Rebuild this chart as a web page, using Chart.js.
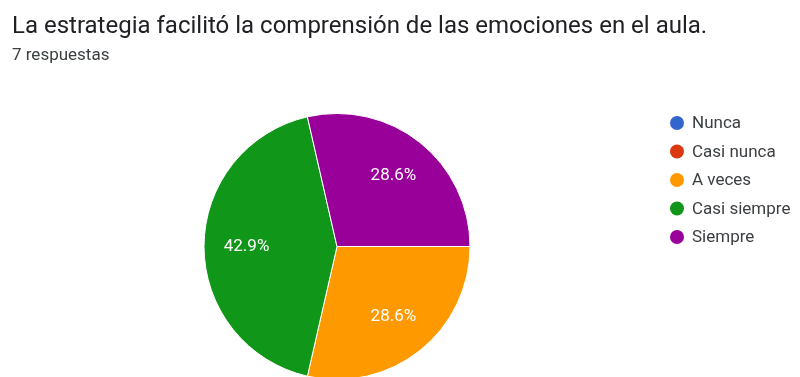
<!DOCTYPE html>
<html lang="es">
<head>
    <meta charset="UTF-8">
    <title>La estrategia facilitó la comprensión de las emociones en el aula.</title>
    <script src="https://cdn.jsdelivr.net/npm/chart.js"></script>
    <style>
        html, body { margin: 0; padding: 0; background: #fff; overflow: hidden; }
        #wrap { position: relative; width: 800px; height: 384px; }
    </style>
</head>
<body>
    <div id="wrap">
        <canvas id="pieChart" role="img" aria-label="La estrategia facilitó la comprensión de las emociones en el aula."></canvas>
    </div>

    <script>
        // Data
        const chartTitle = 'La estrategia facilitó la comprensión de las emociones en el aula.';
        const chartSubtitle = '7 respuestas';
        const categories = ['Nunca', 'Casi nunca', 'A veces', 'Casi siempre', 'Siempre'];
        const responses = [0, 0, 2, 3, 2];
        const sliceColors = ['#3366cc', '#dc3912', '#ff9900', '#109618', '#990099'];

        const FONT = 'Roboto, "Noto Sans", Arial, sans-serif';

        // Title, subtitle and legend drawn on the canvas
        const headerAndLegend = {
            id: 'headerAndLegend',
            afterDraw(chart) {
                const ctx = chart.ctx;
                ctx.save();
                ctx.textAlign = 'left';
                ctx.textBaseline = 'alphabetic';

                ctx.fillStyle = '#202124';
                ctx.font = '400 24px ' + FONT;
                ctx.fillText(chartTitle, 12, 33);

                ctx.fillStyle = '#3c4043';
                ctx.font = '400 17px ' + FONT;
                ctx.fillText(chartSubtitle, 12, 60);

                // legend
                ctx.font = '400 17px ' + FONT;
                ctx.textBaseline = 'middle';
                chart.data.labels.forEach((label, i) => {
                    const y = 123 + i * 28.5;
                    ctx.beginPath();
                    ctx.arc(677, y, 7, 0, Math.PI * 2);
                    ctx.fillStyle = chart.data.datasets[0].backgroundColor[i];
                    ctx.fill();
                    ctx.fillStyle = '#3c4043';
                    ctx.fillText(label, 692, y + 1);
                });
                ctx.restore();
            }
        };

        // Percent labels inside the slices
        const sliceLabels = {
            id: 'sliceLabels',
            afterDatasetsDraw(chart) {
                const ctx = chart.ctx;
                const meta = chart.getDatasetMeta(0);
                const data = chart.data.datasets[0].data;
                const total = data.reduce((a, b) => a + b, 0);
                ctx.save();
                ctx.fillStyle = '#ffffff';
                ctx.font = '400 17px ' + FONT;
                ctx.textAlign = 'center';
                ctx.textBaseline = 'middle';
                meta.data.forEach((arc, i) => {
                    if (!data[i]) return;
                    const p = arc.getProps(['x', 'y', 'startAngle', 'endAngle', 'outerRadius'], true);
                    const mid = (p.startAngle + p.endAngle) / 2;
                    const r = p.outerRadius * 0.68;
                    const pct = (data[i] / total * 100).toFixed(1) + '%';
                    ctx.fillText(pct, p.x + Math.cos(mid) * r, p.y + Math.sin(mid) * r);
                });
                ctx.restore();
            }
        };

        const ctx = document.getElementById('pieChart').getContext('2d');
        new Chart(ctx, {
            type: 'pie',
            data: {
                labels: categories,
                datasets: [{
                    data: responses,
                    backgroundColor: sliceColors,
                    borderColor: '#ffffff',
                    borderWidth: 1
                }]
            },
            options: {
                responsive: true,
                maintainAspectRatio: false,
                animation: false,
                rotation: 90,
                layout: {
                    padding: { left: 203, right: 329, top: 113, bottom: 4 }
                },
                plugins: {
                    legend: { display: false },
                    title: { display: false },
                    tooltip: { enabled: false }
                }
            },
            plugins: [headerAndLegend, sliceLabels]
        });
    </script>
</body>
</html>
